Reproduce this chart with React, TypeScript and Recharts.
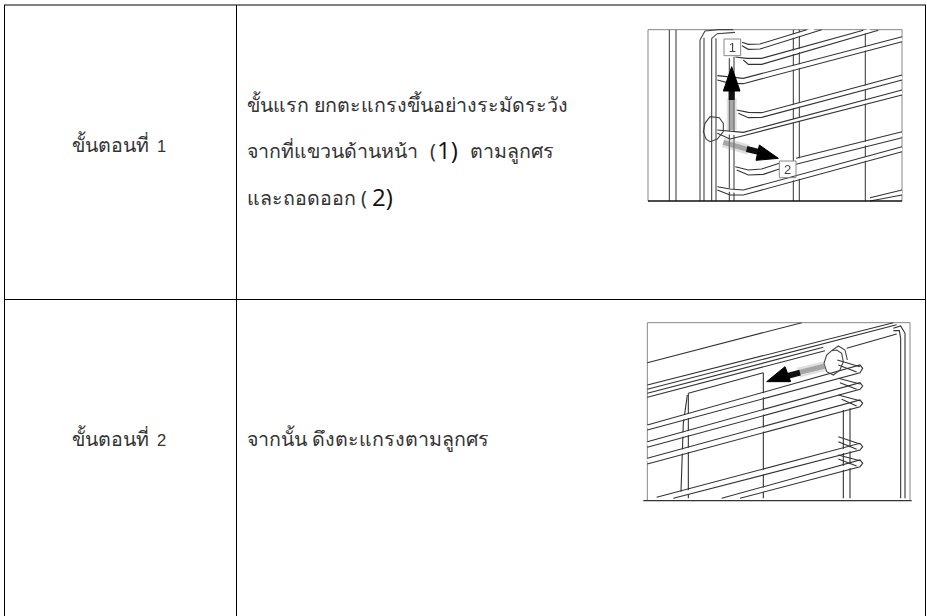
import { ComposedChart, Line, Scatter, XAxis, YAxis } from 'recharts';

type Pt = [number, number];

const FULL = { width: 927, height: 616 };

// table rules, page pixels
const tableRules: Pt[][] = [
  [[4, 5], [926, 5]],
  [[4, 299.5], [926, 299.5]],
  [[4.5, 5], [4.5, 616]],
  [[236.5, 5], [236.5, 616]],
  [[925.5, 5], [925.5, 616]],
];

// thai text, page pixels
const thaiText = ['ขั้นตอนที่', 'ขั้นตอนที่', 'ขั้นแรก ยกตะแกรงขึ้นอย่างระมัดระวัง', 'จากที่แขวนด้านหน้า', '(', 'ตามลูกศร', 'และถอดออก (', 'จากนั้น ดึงตะแกรงตามลูกศร'];
const thaiX = [72, 72, 247, 247, 430, 470, 247, 247];
const thaiY = [152, 446, 112, 158, 158, 158, 205, 446];

const stepDigits = ['1', '2'];
const stepDigitX = [157, 157];
const stepDigitY = [152, 446];

const bigText = ['1)', '2)'];
const bigX = [437, 372];
const bigY = [159, 206];

// first picture, in units of 1/3 px
const pic1Frame: Pt[][] = [
  [[54, 44], [54, 558]],
  [[54, 44], [816, 44]],
  [[816, 44], [816, 558]],
];
const pic1Base: Pt[] = [[54, 558], [816, 558]];
const pic1Verticals: Pt[][] = [
  [[118, 44], [118, 558]],
  [[138, 44], [138, 558]],
  [[210, 75], [210, 558]],
  [[222, 68], [222, 558]],
  [[245, 70], [245, 558]],
  [[258, 70], [258, 558]],
  [[298, 130], [298, 558]],
  [[312, 125], [312, 558]],
  [[490, 44], [490, 438]],
  [[508, 44], [508, 438]],
  [[490, 488], [490, 558]],
  [[508, 488], [508, 558]],
  [[706, 44], [706, 558]],
  [[210, 75], [225, 48], [265, 44], [310, 44]],
  [[245, 70], [262, 56], [315, 52]],
];
const pic1RodCentres: Pt[][] = [
  [[340, 90], [390, 94], [552, 44]],
  [[320, 130], [395, 139], [720, 46]],
  [[262, 188], [340, 198], [816, 72]],
  [[320, 290], [395, 300], [816, 188]],
  [[262, 350], [340, 357], [816, 232]],
  [[320, 460], [395, 470], [448, 452]],
  [[498, 438], [816, 358]],
  [[262, 520], [340, 532], [816, 402]],
  [[720, 553], [816, 532]],
];
const pic1Rods: Pt[][] = [
  [[336, 82], [355, 88], [390, 87], [530, 44]],
  [[336, 92], [355, 103], [390, 102], [575, 44]],
  [[316, 126], [350, 130], [395, 130], [700, 46]],
  [[340, 135], [355, 148], [395, 148], [745, 46]],
  [[262, 182], [340, 190], [816, 65]],
  [[262, 195], [300, 205], [340, 206], [816, 80]],
  [[320, 285], [355, 292], [395, 293], [816, 180]],
  [[325, 295], [355, 308], [395, 307], [816, 195]],
  [[262, 345], [340, 352], [816, 225]],
  [[262, 355], [300, 372], [340, 362], [816, 240]],
  [[316, 455], [355, 465], [395, 462], [448, 445]],
  [[320, 465], [355, 480], [400, 478], [448, 462]],
  [[498, 430], [816, 350]],
  [[498, 448], [816, 368]],
  [[262, 515], [300, 522], [340, 525], [816, 395]],
  [[262, 525], [300, 540], [340, 540], [816, 410]],
  [[720, 548], [816, 525]],
  [[720, 558], [816, 540]],
];
const pic1Ring: Pt[] = [[240, 305], [225, 325], [220, 350], [228, 372], [240, 380], [262, 372], [280, 350], [280, 325], [268, 308], [240, 305]];
const pic1Boxes: Pt[][] = [
  [[282, 72], [332, 72], [332, 122], [282, 122], [282, 72]],
  [[448, 438], [498, 438], [498, 488], [448, 488], [448, 438]],
];
const pic1ArrowHeads: Pt[][] = [
  [[305, 155], [280, 228], [330, 228], [305, 155]],
  [[445, 430], [388, 390], [378, 436], [445, 430]],
];
const pic1ArrowShafts: Pt[][] = [
  [[305, 225], [305, 255]],
  [[392, 412], [350, 402]],
];
const pic1ArrowFade: Pt[][] = [
  [[305, 250], [305, 345]],
  [[355, 404], [280, 382]],
];
const pic1Digits = ['1', '2'];
const pic1DigitX = [307, 473];
const pic1DigitY = [112, 478];

// second picture, in units of 1/3 px
const pic2Frame: Pt[][] = [
  [[52, 38], [52, 572]],
  [[52, 38], [840, 38]],
  [[840, 38], [840, 572]],
];
const pic2Base: Pt[] = [[40, 572], [845, 572]];
const pic2Lines: Pt[][] = [
  [[52, 158], [515, 38]],
  [[52, 225], [790, 38]],
  [[52, 238], [800, 44]],
  [[52, 250], [580, 112]],
  [[52, 262], [585, 122]],
  [[650, 115], [800, 72]],
  [[790, 55], [812, 48], [825, 70], [825, 565]],
  [[790, 62], [808, 62], [812, 85], [812, 565]],
  [[175, 250], [400, 188]],
  [[400, 188], [400, 565]],
  [[175, 250], [175, 565]],
  [[172, 255], [160, 340], [153, 545]],
  [[640, 300], [640, 565]],
  [[660, 290], [660, 565]],
];
const pic2RodCentres: Pt[][] = [
  [[52, 352], [690, 175]],
  [[52, 403], [690, 228]],
  [[52, 453], [690, 280]],
  [[105, 565], [690, 410]],
  [[305, 565], [690, 460]],
];
const pic2Rods: Pt[][] = [
  [[52, 345], [690, 165], [698, 175], [690, 188], [52, 360]],
  [[52, 395], [690, 218], [698, 228], [690, 238], [52, 412]],
  [[52, 445], [690, 270], [698, 280], [690, 290], [52, 462]],
  [[80, 562], [690, 400], [698, 410], [690, 420], [130, 565]],
  [[275, 565], [690, 450], [698, 460], [690, 470], [330, 565]],
  [[622, 150], [690, 170]],
  [[625, 165], [680, 186]],
  [[625, 205], [690, 222]],
  [[630, 218], [680, 238]],
  [[625, 255], [690, 272]],
  [[635, 268], [680, 288]],
  [[625, 380], [690, 402]],
  [[625, 395], [680, 418]],
  [[625, 435], [690, 452]],
  [[625, 447], [680, 468]],
];
const pic2Disk: Pt[] = [[605, 122], [590, 135], [582, 160], [590, 185], [610, 195], [630, 180], [640, 155], [635, 130], [620, 120], [605, 122]];
const pic2DiskBack: Pt[] = [[605, 122], [625, 108], [645, 120], [652, 150]];
const pic2ArrowHead: Pt[] = [[410, 215], [465, 170], [482, 215], [410, 215]];
const pic2ArrowShaft: Pt[] = [[465, 200], [510, 188]];
const pic2ArrowFade: Pt[] = [[505, 188], [585, 168]];

const toRows = (pts: Pt[]) => pts.map(([x, y]) => ({ x, y }));
const toLabels = (text: string[], xs: number[], ys: number[]) =>
  text.map((t, i) => ({ x: xs[i], y: ys[i], text: t }));

const textLabel = (fontFamily: string, fontSize: number, fill: string, anchor = 'start', fontWeight = 400) =>
  ({ cx, cy, payload }: any) => (
    <text x={cx} y={cy} textAnchor={anchor} fontFamily={fontFamily} fontSize={fontSize} fontWeight={fontWeight} fill={fill}>
      {payload.text}
    </text>
  );

// hidden axes, one pair per coordinate system
const axes = [
  <XAxis key="xp" xAxisId="page" type="number" dataKey="x" domain={[0, 927]} hide allowDataOverflow />,
  <YAxis key="yp" yAxisId="page" type="number" dataKey="y" domain={[0, 616]} reversed hide allowDataOverflow />,
  <XAxis key="xz" xAxisId="zoom" type="number" dataKey="x" domain={[-1890, 891]} hide allowDataOverflow />,
  <YAxis key="y1" yAxisId="pic1" type="number" dataKey="y" domain={[-45, 1803]} reversed hide allowDataOverflow />,
  <YAxis key="y2" yAxisId="pic2" type="number" dataKey="y" domain={[-930, 918]} reversed hide allowDataOverflow />,
];

function strokes(name: string, sets: Pt[][], yAxisId: string, stroke: string, strokeWidth: number, opacity = 1, filled = false) {
  return sets.map((pts, i) => (
    <Line
      key={name + i}
      data={toRows(pts)}
      dataKey="y"
      xAxisId={yAxisId === 'page' ? 'page' : 'zoom'}
      yAxisId={yAxisId}
      type="linear"
      stroke={stroke}
      strokeWidth={strokeWidth}
      strokeOpacity={opacity}
      style={filled ? { fill: stroke } : undefined}
      dot={false}
      activeDot={false}
      legendType="none"
      tooltipType="none"
      isAnimationActive={false}
    />
  ));
}

const margin = { top: 0, right: 0, bottom: 0, left: 0 };
const layer = { position: 'absolute', left: 0, top: 0 } as const;

export default function App() {
  return (
    <div style={{ position: 'absolute', left: 0, top: 0, width: 927, height: 616, background: '#fff', overflow: 'hidden' }}>
      {/* the two pictures are soft scans, so they sit in a lightly blurred layer */}
      <div style={{ ...layer, filter: 'blur(0.5px)' }}>
        <ComposedChart {...FULL} margin={margin}>
          {axes}
          {strokes('f1', pic1Frame, 'pic1', '#888', 1)}
          {strokes('v1', pic1Verticals, 'pic1', '#444', 1.1)}
          {strokes('c1', pic1RodCentres, 'pic1', '#fff', 3.5)}
          {strokes('r1', pic1Rods, 'pic1', '#333', 1.1)}
          {strokes('ring1', [pic1Ring], 'pic1', '#444', 1.1)}
          {strokes('base1', [pic1Base], 'pic1', '#111', 1.3)}
          {strokes('box1', pic1Boxes, 'pic1', '#888', 1)}
          {strokes('halo1', pic1ArrowFade, 'pic1', '#999', 10, 0.3)}
          {strokes('fade1', pic1ArrowFade, 'pic1', '#777', 5, 0.55)}
          {strokes('shaft1', pic1ArrowShafts, 'pic1', '#111', 6)}
          {strokes('head1', pic1ArrowHeads, 'pic1', '#000', 1, 1, true)}
          {strokes('f2', pic2Frame, 'pic2', '#888', 1)}
          {strokes('l2', pic2Lines, 'pic2', '#333', 1.1)}
          {strokes('c2', pic2RodCentres, 'pic2', '#fff', 4)}
          {strokes('r2', pic2Rods, 'pic2', '#333', 1.1)}
          {strokes('disk2', [pic2DiskBack, pic2Disk], 'pic2', '#444', 1.1)}
          {strokes('base2', [pic2Base], 'pic2', '#333', 1.3)}
          {strokes('halo2', [pic2ArrowFade], 'pic2', '#999', 10, 0.3)}
          {strokes('fade2', [pic2ArrowFade], 'pic2', '#777', 5, 0.55)}
          {strokes('shaft2', [pic2ArrowShaft], 'pic2', '#111', 6)}
          {strokes('head2', [pic2ArrowHead], 'pic2', '#000', 1, 1, true)}
          <Scatter
            data={toLabels(pic1Digits, pic1DigitX, pic1DigitY)}
            xAxisId="zoom"
            yAxisId="pic1"
            shape={textLabel('Liberation Sans', 13, '#444', 'middle')}
            isAnimationActive={false}
          />
        </ComposedChart>
      </div>
      <div style={layer}>
        <ComposedChart {...FULL} margin={margin}>
          {axes}
          {strokes('rule', tableRules, 'page', '#000', 1)}
          <Scatter
            data={toLabels(thaiText, thaiX, thaiY)}
            xAxisId="page"
            yAxisId="page"
            shape={textLabel('Noto Sans, DejaVu Sans, sans-serif', 19.6, '#333')}
            isAnimationActive={false}
          />
          <Scatter
            data={toLabels(stepDigits, stepDigitX, stepDigitY)}
            xAxisId="page"
            yAxisId="page"
            shape={textLabel('Liberation Sans', 16.5, '#333')}
            isAnimationActive={false}
          />
          <Scatter
            data={toLabels(bigText, bigX, bigY)}
            xAxisId="page"
            yAxisId="page"
            shape={textLabel('Open Sans', 24, '#111', 'start', 500)}
            isAnimationActive={false}
          />
        </ComposedChart>
      </div>
    </div>
  );
}
